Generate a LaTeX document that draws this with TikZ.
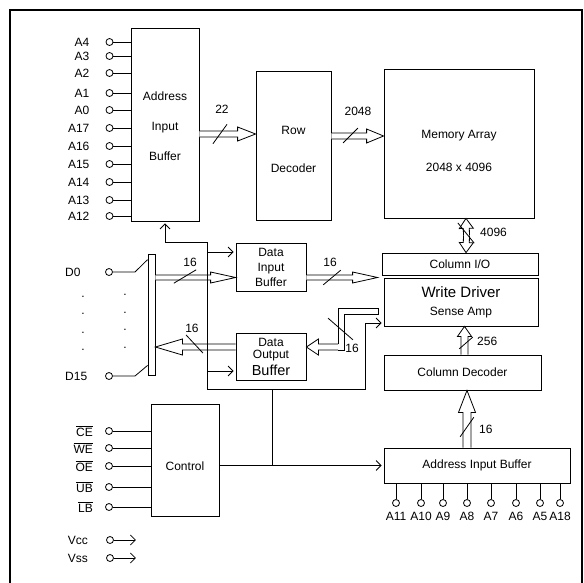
\documentclass[tikz,border=0pt]{standalone}
\usepackage{amsmath}
\usepackage{fontspec}
\setmainfont{Liberation Sans}
\usepackage{tikz}
\usetikzlibrary{arrows.meta, calc, positioning}
\tikzset{%
  block/.style={%
    rectangle,%
    draw=black,%
    line width=0.8pt,%
    inner sep=0pt,%
    align=center,%
  },
  io_pad/.style={%
    circle,%
    draw=black,%
    line width=0.8pt,%
    minimum size=7pt,%
    inner sep=0pt,%
  },
  pad_text/.style={%
    inner sep=1pt,%
  },
  annotate/.style={%
    inner sep=0pt,%
  },
  signal/.style={%
    line width=0.8pt,%
    line join=miter,%
  },
  arrow/.style={-{Straight Barb[length=5pt, width=10pt]}, shorten >=2pt},
  % hollow bus arrow: shaft half width, head half width, head length
  bus/.style n args={3}{%
    draw=black,%
    fill=white,%
    line width=0.8pt,%
    line join=miter,%
    to path={%
      ($(\tikztostart)!#1!90:(\tikztotarget)$)
      -- ($(\tikztotarget)!#3!(\tikztostart)!#1!-90:(\tikztostart)$)
      -- ($(\tikztotarget)!#3!(\tikztostart)!#2!-90:(\tikztostart)$)
      -- (\tikztotarget)
      -- ($(\tikztotarget)!#3!(\tikztostart)!#2!90:(\tikztostart)$)
      -- ($(\tikztotarget)!#3!(\tikztostart)!#1!90:(\tikztostart)$)
      -- ($(\tikztostart)!#1!-90:(\tikztotarget)$)
    },
  },
  bus_tick/.style={%
    draw=black,%
    line width=0.8pt,%
    minimum width=0pt,%
    inner sep=0pt,%
  },
}

\begin{document}
\begin{tikzpicture}[x=1pt, y=-1pt, font=\fontsize{12}{15}\selectfont]
  \useasboundingbox (0,0) rectangle (584,582);
  \node [draw, line width=2pt, minimum width=572pt, minimum height=600pt,
    anchor=north west] (frame) at (9,9) {};

  % blocks
  \node [block, minimum width=68pt, minimum height=193pt] (AddrHigh) at (165,124.5) {%
    \rule{0pt}{13pt}Address\\[15pt]Input\\[15pt]Buffer%
  };
  \node [block, minimum width=75pt, minimum height=149pt] (RowDec) at (293.5,145.5) {%
    \rule{0pt}{16pt}Row\\[23pt]Decoder%
  };
  \node [block, minimum width=150pt, minimum height=149pt] (MemArray) at (459,143.5) {%
    \rule{0pt}{23pt}Memory Array\\[18pt]2048 x 4096%
  };
  \node [block, minimum width=156pt, minimum height=22pt] (ColIO) at (460,264) {%
    Column I/O%
  };
  \node [block, minimum width=154pt, minimum height=48pt] (WriteDrv) at (461,302) {%
    {\fontsize{15}{17}\selectfont Write Driver}\\[3pt]Sense Amp%
  };
  \node [block, minimum width=157pt, minimum height=35pt] (ColDec) at (462.5,372.5) {%
    Column Decoder%
  };
  \node [block, minimum width=186pt, minimum height=35pt] (AddrLow) at (477,465.5) {%
    Address Input Buffer%
  };
  \node [block, minimum width=70pt, minimum height=48pt] (DataIn) at (271,267) {%
    Data\\Input\\Buffer%
  };
  \node [block, minimum width=70pt, minimum height=47pt] (DataOut) at (271,356.5) {%
    Data\\[-3pt]Output\\[2pt]{\fontsize{14.5}{15}\selectfont Buffer}%
  };
  \node [block, minimum width=68pt, minimum height=112pt] (Control) at (185,460) {%
    \rule{0pt}{22pt}Control%
  };
  \node [block, minimum width=7pt, minimum height=121pt] (DataBus) at (151.5,314.5) {};

  % address pins, upper buffer
  \foreach \pinname/\pinY in {A4/42, A3/56, A2/73, A1/93, A0/110, A17/128,
      A16/146, A15/164, A14/182, A13/200, A12/216} {
    \node [io_pad] (pad_\pinname) at (109.5,\pinY) {};
    \node [pad_text, left = 15pt of pad_\pinname] (txt_\pinname) {\pinname};
    \draw [signal] (pad_\pinname.east) -- (pad_\pinname.east -| AddrHigh.west);
  }

  % address pins, lower buffer
  \foreach \pinname/\pinX in {A11/396, A10/421, A9/443, A8/467, A7/491,
      A6/516, A5/540, A18/560} {
    \node [io_pad] (pad_\pinname) at (\pinX,503) {};
    \node [pad_text, below = 4pt of pad_\pinname] (txt_\pinname) {\pinname};
    \draw [signal] (pad_\pinname.north) -- (pad_\pinname.north |- AddrLow.south);
  }

  % control pins
  \foreach \pinname/\pinY in {CE/431, WE/448, OE/466, UB/487, LB/507} {
    \node [io_pad] (pad_\pinname) at (109,\pinY) {};
    \node [pad_text, left = 11pt of pad_\pinname] (txt_\pinname) {%
      \(\overline{\text{\pinname}}\)%
    };
    \draw [signal] (pad_\pinname.east) -- (pad_\pinname.east -| Control.west);
  }

  % supply pins
  \foreach \pinname/\pinY in {Vcc/540, Vss/558} {
    \node [io_pad] (pad_\pinname) at (110,\pinY) {};
    \node [pad_text, left = 17pt of pad_\pinname] (txt_\pinname) {\pinname};
    \coordinate [right = 24pt of pad_\pinname] (end_\pinname);
    \draw [signal, arrow] (pad_\pinname.east) -- (end_\pinname);
  }

  % data pins
  \node [io_pad] (pad_D0) at (109,272) {};
  \node [pad_text, anchor=west] (txt_D0) at (64,272) {D0};
  \node [io_pad] (pad_D15) at (109,376) {};
  \node [pad_text, anchor=west] (txt_D15) at (64,376) {D15};
  \coordinate (bend_D0) at (135,272);
  \coordinate (bend_D15) at (135,376);
  \draw [signal] (pad_D0.east) -- (bend_D0) -- ([yshift=-6pt]DataBus.north west);
  \draw [signal] (pad_D15.east) -- (bend_D15) -- ([yshift=10pt]DataBus.south west);
  \foreach \dotY/\dotZ in {297/295, 314/313, 333/330, 350/348} {
    \node [annotate] (dot_l\dotY) at (83,\dotY) {.};
    \node [annotate] (dot_r\dotY) at (125,\dotZ) {.};
  }

  % buses
  \draw [bus={3pt}{7pt}{18pt}]
    ([yshift=-9.5pt]AddrHigh.east) to ([yshift=-9.5pt]AddrHigh.east -| RowDec.west);
  \draw [bus={3pt}{7pt}{17pt}]
    ([yshift=9.5pt]RowDec.east) to ([yshift=9.5pt]RowDec.east -| MemArray.west);
  \coordinate (col_mid) at ($(MemArray.south)!0.5!(ColIO.north) + (7,0)$);
  \draw [bus={3pt}{7pt}{10pt}] (col_mid) to ([xshift=7pt]MemArray.south);
  \draw [bus={3pt}{7pt}{10pt}] (col_mid) to ([xshift=7pt]MemArray.south |- ColIO.north);
  \draw [bus={2.5pt}{5.5pt}{25pt}]
    ([yshift=-10.5pt]DataIn.west -| DataBus.east) to ([yshift=-10.5pt]DataIn.west);
  \draw [bus={2.5pt}{5.5pt}{25pt}]
    ([yshift=-10.5pt]DataIn.east) to ([xshift=-6pt, yshift=-10.5pt]DataIn.east -| WriteDrv.west);
  \draw [bus={3pt}{8pt}{27pt}]
    ([yshift=9.5pt]DataOut.west) to ([yshift=9.5pt]DataOut.west -| DataBus.east);
  \coordinate (rd_tail) at ([xshift=-5pt, yshift=-9.5pt]WriteDrv.west);
  \coordinate (rd_corner) at (338,347);
  \draw [signal]
    ([yshift=3pt]rd_corner) |- ([yshift=3pt]rd_tail) -- ([yshift=-3pt]rd_tail)
    -| ([xshift=6pt, yshift=-3pt]rd_corner) -- ([yshift=-3pt]rd_corner);
  \draw [bus={3pt}{8pt}{12pt}] (rd_corner) to ([yshift=9.5pt]DataOut.east);
  \draw [bus={3.5pt}{7pt}{10pt}]
    ([xshift=2pt]ColDec.north) to ([xshift=2pt]ColDec.north |- WriteDrv.south);
  \draw [bus={4pt}{8.5pt}{22pt}]
    ([xshift=-10pt]AddrLow.north) to ([xshift=-10pt]AddrLow.north |- ColDec.south);

  % control wiring
  \coordinate (ctl_tap) at (272,0 |- AddrLow.west);
  \coordinate (ctl_top) at (272,389);
  \coordinate (bus_sw) at (207,389);
  \coordinate (bus_se) at (365,389);
  \coordinate (bus_nw) at (207,242);
  \draw [signal, arrow] (Control.east |- AddrLow.west) -- (AddrLow.west);
  \draw [signal] (ctl_tap) -- (ctl_top);
  \draw [signal, arrow] (bus_nw) -- (bus_sw) -- (bus_se) |- ([yshift=-21pt]WriteDrv.west);
  \draw [signal, arrow] (bus_nw) -| (AddrHigh.south);
  \draw [signal, arrow] ([yshift=15pt]DataIn.west -| bus_nw) -- ([yshift=15pt]DataIn.west);
  \draw [signal, arrow] ([yshift=-14.5pt]DataOut.west -| bus_nw) -- ([yshift=-14.5pt]DataOut.west);

  % bus widths
  \node [bus_tick, minimum height=24pt, rotate=-36] (tick_row) at (220,134) {};
  \node [annotate] (width_row) at (222,109) {22};
  \node [bus_tick, minimum height=21pt, rotate=-45] (tick_word) at (350.5,135.5) {};
  \node [annotate] (width_word) at (358,111) {2048};
  \node [bus_tick, minimum height=26pt, rotate=39] (tick_col) at (466,233) {};
  \node [annotate, anchor=west] (width_col) at (480,232) {4096};
  \node [bus_tick, minimum height=26pt, rotate=-59] (tick_din) at (185,276.5) {};
  \node [annotate] (width_din) at (190,262) {16};
  \node [bus_tick, minimum height=23pt, rotate=-50] (tick_wr) at (332,277.5) {};
  \node [annotate] (width_wr) at (330,262) {16};
  \node [bus_tick, minimum height=25pt, rotate=43] (tick_dout) at (194.5,344) {};
  \node [annotate] (width_dout) at (192,328) {16};
  \node [bus_tick, minimum height=33pt, rotate=49] (tick_rd) at (340.5,329) {};
  \node [annotate] (width_rd) at (352,348) {16};
  \node [bus_tick, minimum height=18pt, rotate=-49] (tick_sel) at (466,343) {};
  \node [annotate, anchor=west] (width_sel) at (477,341) {256};
  \node [bus_tick, minimum height=24pt, rotate=-35] (tick_low) at (467,427) {};
  \node [annotate, anchor=west] (width_low) at (479,429) {16};
\end{tikzpicture}
\end{document}
